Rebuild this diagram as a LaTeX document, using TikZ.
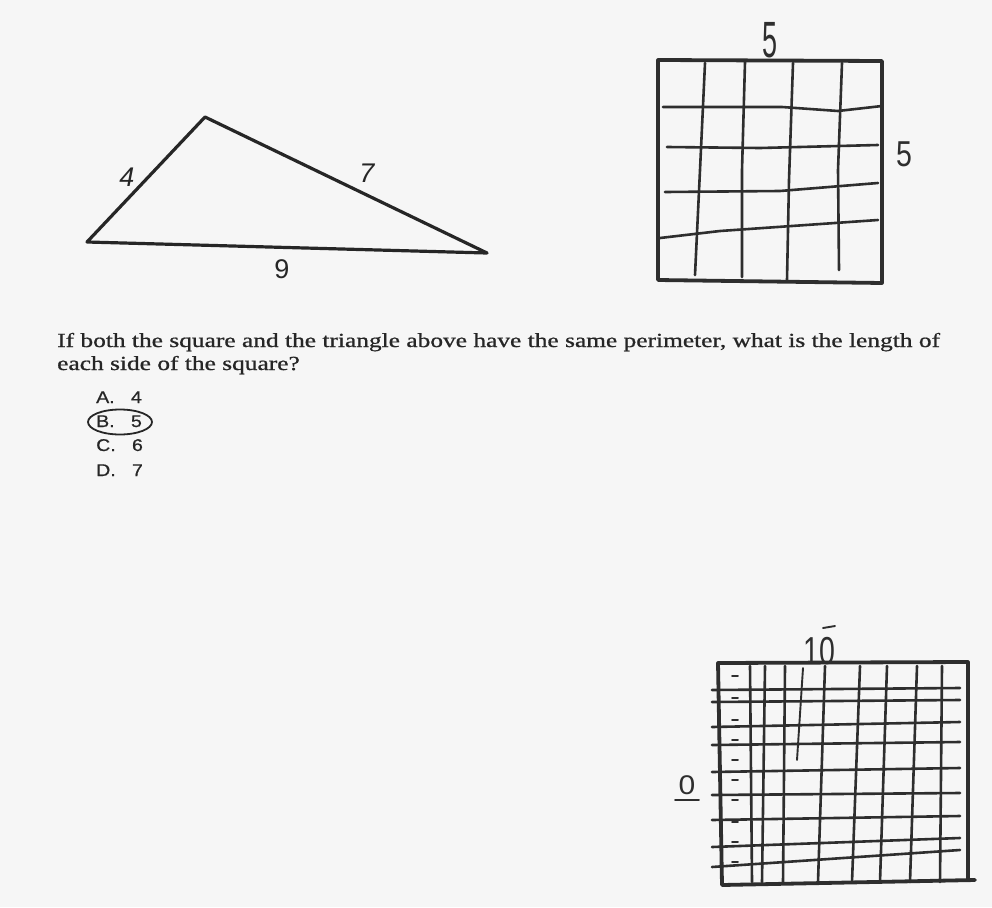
\documentclass[tikz,border=0pt]{standalone}
\usepackage{fontspec}
\setmainfont{Liberation Serif}
\setsansfont{Liberation Sans}
\usepackage{tikz}
\usetikzlibrary{positioning,calc}
\definecolor{paper}{HTML}{F6F6F6}
\definecolor{ink}{HTML}{262626}
\definecolor{pencil}{HTML}{2E2E2E}

\tikzset{
  frame/.style={draw=pencil,line width=3.8pt,line join=round,line cap=round},
  gridline/.style={draw=pencil,line width=2.6pt,line cap=round},
  thinline/.style={draw=pencil,line width=1.9pt,line cap=round},
  side/.style={draw=ink,line width=3.2pt,line join=round},
  sidelabel/.style={text=ink,font=\sffamily\fontsize{27}{27}\selectfont,inner sep=0pt},
  handlabel/.style={text=pencil,font=\sffamily\fontsize{30}{30}\selectfont,inner sep=0pt},
  question/.style={text=ink,font=\addfontfeature{FakeBold=0.8}\fontsize{20}{22}\selectfont,inner sep=0pt,anchor=base west},
  choice/.style={text=ink,font=\sffamily\addfontfeature{FakeBold=0.6}\fontsize{17}{18}\selectfont,inner sep=0pt,anchor=base west}
}

\begin{document}
\begin{tikzpicture}[x=1pt,y=-1pt]
		
		\fill[paper] (0,0) rectangle (992,907);
		\useasboundingbox (0,0) rectangle (992,907);
		
		% Triangle
		\draw[side] (87,242) -- (205,117) -- (487,253) -- cycle;
		\node[sidelabel] (four) at (127,177) {\itshape 4};
		\node[sidelabel] (seven) at (367,173) {\itshape 7};
		\node[sidelabel] (nine) at (282,269) {9};
		
		% First square
		\draw[frame] (658,60) -- (882,61) -- (882,283) -- (658,280) -- cycle;
		\draw[gridline] (705,63) -- (700,170) -- (695,275);
		\draw[gridline] (745,62) -- (742,170) -- (742,277);
		\draw[gridline] (793,63) -- (789,180) -- (787,280);
		\draw[gridline] (842,63) -- (838,170) -- (839,270);
		\draw[gridline] (663,107) -- (782,107) -- (838,111) -- (882,106);
		\draw[gridline] (667,147) -- (760,148) -- (878,145);
		\draw[gridline] (665,192) -- (780,191) -- (878,183);
		\draw[gridline] (660,238) -- (720,231) -- (878,220);
		\node[handlabel,anchor=base] (top5) at (770,57) {\scalebox{0.9}[1.7]{5}};
		\node[handlabel] (right5) at (904,154) {\scalebox{0.95}[1.2]{5}};
		
		% Question
		\node[question] (q1) at (57,347) {\scalebox{1.27}[1]{If both the square and the triangle above have the same perimeter, what is the length of}};
		\node[question] (q2) at (57,370) {\scalebox{1.27}[1]{each side of the square?}};
		\node[choice] (ca) at (96,403) {\scalebox{1.15}[1]{A.\ \ \ 4}};
		\node[choice] (cb) at (96,427) {\scalebox{1.15}[1]{B.\ \ \ 5}};
		\node[choice] (cc) at (96,451) {\scalebox{1.15}[1]{C.\ \ \ 6}};
		\node[choice] (cd) at (96,476) {\scalebox{1.15}[1]{D.\ \ \ 7}};
		\draw[ink,line width=1.8pt] (120,422) ellipse [x radius=32, y radius=12.5];
		
		% Second square
		\draw[frame] (718,663) -- (968,662) -- (968,880) -- (975,880) -- (722,885) -- cycle;
		\foreach \xa/\xb in {750/752,765/762,785/783,825/818,860/852,887/880,917/910,942/940}
		  \draw[gridline] (\xa,666) -- (\xb,882);
		\draw[thinline] (803,668) -- (797,760);
		\foreach \ya/\yb in {690/688,702/700,727/722,745/742,772/768,795/793,820/816,847/838,867/850}
		  \draw[gridline] (712,\ya) -- (960,\yb);
		\foreach \yt in {676,698,720,740,760,780,800,822,842,862}
		  \draw[thinline] (732,\yt) -- (738,\yt);
		\node[handlabel,anchor=base] (ten) at (819,664) {\scalebox{0.95}[1.3]{10}};
		\draw[thinline] (823,628) -- (835,626);
		\node[handlabel,anchor=base] (zero) at (687,794) {\scalebox{1}[0.9]{0}};
		\draw[thinline] (675,800) -- (699,800);
		
	\end{tikzpicture}
\end{document}
